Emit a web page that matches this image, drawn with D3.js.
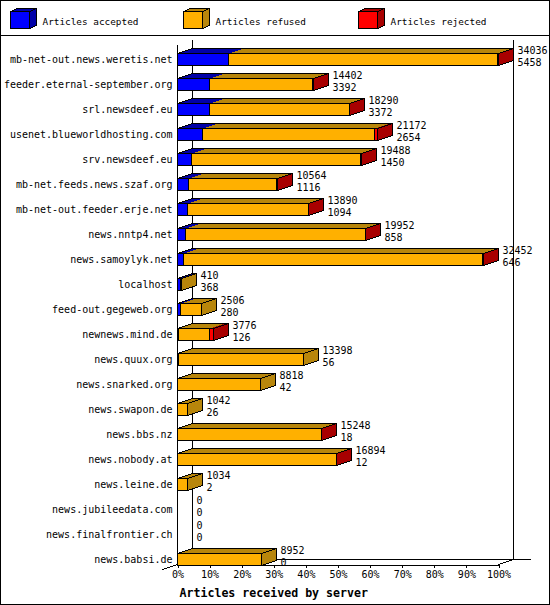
<!DOCTYPE html>
<html lang="en">
<head>
    <meta charset="UTF-8">
    <title>Articles received by server</title>
    <script src="https://cdn.jsdelivr.net/npm/d3@7"></script>
    <style>
        body { margin: 0; background: #fff; }
        text { font-family: "DejaVu Sans Mono", monospace; fill: #000; }
    </style>
</head>
<body>
<div id="chart"></div>

<script>
    const servers = ["mb-net-out.news.weretis.net", "feeder.eternal-september.org", "srl.newsdeef.eu",
        "usenet.blueworldhosting.com", "srv.newsdeef.eu", "mb-net.feeds.news.szaf.org",
        "mb-net-out.feeder.erje.net", "news.nntp4.net", "news.samoylyk.net", "localhost",
        "feed-out.gegeweb.org", "newnews.mind.de", "news.quux.org", "news.snarked.org",
        "news.swapon.de", "news.bbs.nz", "news.nobody.at", "news.leine.de",
        "news.jubileedata.com", "news.finalfrontier.ch", "news.babsi.de"];
    const totals   = [34036, 14402, 18290, 21172, 19488, 10564, 13890, 19952, 32452, 410, 2506, 3776, 13398, 8818, 1042, 15248, 16894, 1034, 0, 0, 8952];
    const accepted = [5458, 3392, 3372, 2654, 1450, 1116, 1094, 858, 646, 368, 280, 126, 56, 42, 26, 18, 12, 2, 0, 0, 0];
    const refused  = [28458, 10950, 14858, 18198, 17988, 9398, 12746, 19044, 31746, 42, 2226, 3300, 13342, 8776, 1016, 15200, 16852, 1032, 0, 0, 8952];
    const rejected = [120, 60, 60, 320, 50, 50, 50, 50, 60, 0, 0, 350, 0, 0, 0, 30, 30, 0, 0, 0, 0];
    const seriesNames = ["Articles accepted", "Articles refused", "Articles rejected"];
    const tickValues = [0, 10, 20, 30, 40, 50, 60, 70, 80, 90, 100];

    const width = 550, height = 605;
    const front = ["#0000ff", "#ffb000", "#ff0000"];
    const dark = ["#0000a8", "#b8860b", "#a80000"];
    const DX = 15, DY = 5, HALF = 6;

    const svg = d3.select("#chart").append("svg")
        .attr("width", width)
        .attr("height", height)
        .attr("shape-rendering", "crispEdges");

    const g = svg.append("g").attr("transform", "translate(0.5,0.5)");

    // frame + legend separator
    g.append("rect").attr("x", 0).attr("y", 0).attr("width", width - 1).attr("height", height - 1)
        .attr("fill", "none").attr("stroke", "#000");
    g.append("line").attr("x1", 0).attr("x2", width).attr("y1", 35).attr("y2", 35).attr("stroke", "#000");

    // legend
    const legendX = [10, 183, 358];
    seriesNames.forEach(function (name, i) {
        const lx = legendX[i], ly = 11, w = 19, h = 17, dx = 7, dy = 3;
        g.append("polygon")
            .attr("points", [[lx, ly], [lx + dx, ly - dy], [lx + w + dx, ly - dy], [lx + w, ly]].join(" "))
            .attr("fill", dark[i]).attr("stroke", "#000");
        g.append("polygon")
            .attr("points", [[lx + w, ly], [lx + w + dx, ly - dy], [lx + w + dx, ly + h - dy], [lx + w, ly + h]].join(" "))
            .attr("fill", dark[i]).attr("stroke", "#000");
        g.append("rect").attr("x", lx).attr("y", ly).attr("width", w).attr("height", h)
            .attr("fill", front[i]).attr("stroke", "#000");
        g.append("text").attr("x", lx + 32).attr("y", 24)
            .style("font-size", "9.4px").text(name);
    });

    const maxTotal = d3.max(totals);
    const x = d3.scaleLinear().domain([0, 100]).range([177, 498]);
    const y = d3.scalePoint().domain(servers).range([59, 559]);
    const px = function (v) { return Math.round(x(v / maxTotal * 100)); };

    const x0 = x(0), x100 = x(100), floorY = 564;

    // 3d frame
    const frame = g.append("g").attr("stroke", "#000").attr("fill", "none");
    frame.append("line").attr("x1", x0 + DX).attr("x2", x0 + DX).attr("y1", 39).attr("y2", floorY - DY);
    frame.append("line").attr("x1", x100 + DX).attr("x2", x100 + DX).attr("y1", 39).attr("y2", floorY - DY);
    frame.append("line").attr("x1", x0 + DX).attr("x2", 530).attr("y1", floorY - DY).attr("y2", floorY - DY);
    frame.append("line").attr("x1", x0 - DX).attr("x2", x0 + DX).attr("y1", floorY + DY).attr("y2", floorY - DY);
    frame.append("line").attr("x1", x100).attr("x2", x100 + DX).attr("y1", floorY).attr("y2", floorY - DY);
    frame.append("line").attr("x1", x0).attr("x2", x0).attr("y1", 44).attr("y2", floorY);

    // bottom axis
    const axis = g.append("g")
        .attr("transform", "translate(0," + floorY + ")")
        .call(d3.axisBottom(x).tickValues(tickValues).tickSize(3).tickSizeOuter(0)
            .tickFormat(function (d) { return d + "%"; }));
    axis.select(".domain").attr("stroke", "#000");
    axis.selectAll(".tick line").attr("stroke", "#000");
    axis.selectAll(".tick text")
        .attr("y", 6)
        .style("font-family", "DejaVu Sans Mono, monospace")
        .style("font-size", "10px")
        .attr("fill", "#000");

    g.append("text").attr("x", 179).attr("y", 596)
        .style("font-size", "11.6px").style("font-weight", "bold")
        .text("Articles received by server");

    // bars
    servers.forEach(function (name, i) {
        const c = y(name);
        const vals = [accepted[i], refused[i], rejected[i]];
        const row = g.append("g");

        row.append("text").attr("x", 172).attr("y", c + 3.5)
            .attr("text-anchor", "end").style("font-size", "10px").text(name);

        const xe = px(totals[i]);
        row.append("text").attr("x", xe + DX + 4).attr("y", c - 6)
            .style("font-size", "10px").text(totals[i]);
        row.append("text").attr("x", xe + DX + 4).attr("y", c + 6)
            .style("font-size", "10px").text(accepted[i]);

        if (totals[i] === 0) return;

        let cum = 0, last = 0;
        vals.forEach(function (v, k) {
            const a = px(cum), b = px(cum + v);
            cum += v;
            if (v > 0) last = k;
            if (b <= a) return;
            row.append("polygon")
                .attr("points", [[a, c - HALF], [a + DX, c - HALF - DY], [b + DX, c - HALF - DY], [b, c - HALF]].join(" "))
                .attr("fill", dark[k]);
            row.append("rect").attr("x", a).attr("y", c - HALF).attr("width", b - a).attr("height", 2 * HALF)
                .attr("fill", front[k]).attr("stroke", "#000");
        });

        const xs = px(0);
        row.append("polygon")
            .attr("points", [[xs, c - HALF], [xs + DX, c - HALF - DY], [xe + DX, c - HALF - DY], [xe, c - HALF]].join(" "))
            .attr("fill", "none").attr("stroke", "#000");
        row.append("polygon")
            .attr("points", [[xe, c - HALF], [xe + DX, c - HALF - DY], [xe + DX, c + HALF - DY], [xe, c + HALF]].join(" "))
            .attr("fill", dark[last]).attr("stroke", "#000");
    });
</script>
</body>
</html>
